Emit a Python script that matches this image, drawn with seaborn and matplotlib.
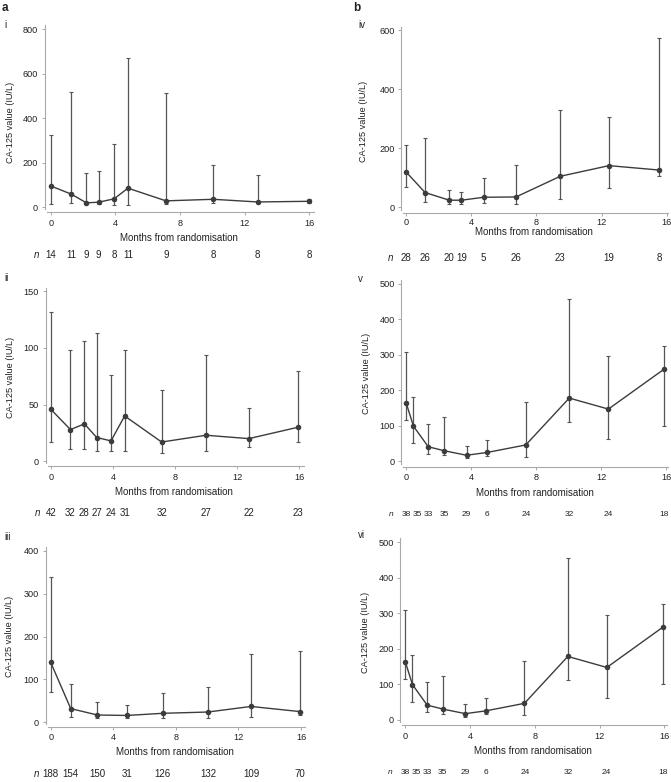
import matplotlib
matplotlib.use("Agg")
import matplotlib.pyplot as plt
import matplotlib.transforms as mtransforms
import pandas as pd
import seaborn as sns

# CA-125 over time, median with range bars, six panels

# (i)
months_i = [0, 1.28, 2.21, 2.97, 3.92, 4.78, 7.13, 10.06, 12.80, 16.0]
median_i = [96, 59, 20, 23, 38, 86, 29, 36, 24, 27]
lower_i = [15, 20, 14, 15, 11, 12, 16, 18, 20, 21]
upper_i = [326, 520, 156, 164, 284, 672, 514, 188, 144, 38]
n_i = [14, 11, 9, 9, 8, 11, 9, 8, 8, 8]

# (ii)
months_ii = [0, 1.27, 2.17, 2.96, 3.88, 4.76, 7.14, 10.0, 12.75, 15.9]
median_ii = [46, 28, 33, 21, 18, 40, 17, 23, 20, 30]
lower_ii = [17, 11, 11, 9, 9, 9, 7, 9, 13, 17]
upper_ii = [132, 98, 106, 113, 76, 98, 63, 94, 47, 80]
n_ii = [42, 32, 28, 27, 24, 31, 32, 27, 22, 23]

# (iii)
months_iii = [0, 1.28, 2.98, 4.89, 7.16, 10.05, 12.80, 15.94]
median_iii = [140, 32, 17, 16, 21, 24, 37, 25]
lower_iii = [70, 13, 10, 9, 9, 9, 13, 16]
upper_iii = [339, 89, 47, 40, 68, 82, 160, 167]
n_iii = [188, 154, 150, 31, 126, 132, 109, 70]

# (iv)
months_iv = [0, 1.17, 2.66, 3.40, 4.77, 6.75, 9.47, 12.46, 15.55]
median_iv = [120, 50, 24, 24, 34, 35, 105, 141, 126]
lower_iv = [68, 19, 12, 12, 16, 12, 28, 66, 106]
upper_iv = [211, 233, 57, 52, 98, 142, 330, 307, 573]
n_iv = [28, 26, 20, 19, 5, 26, 23, 19, 8]

# (v) and (vi) show the same values
months_v = [0, 0.44, 1.35, 2.31, 3.71, 4.99, 7.36, 10.04, 12.45, 15.9]
median_v = [163, 99, 41, 30, 17, 25, 46, 178, 147, 260]
lower_v = [115, 51, 21, 17, 8, 16, 12, 111, 62, 100]
upper_v = [308, 182, 105, 124, 43, 60, 166, 456, 296, 325]
n_v = [38, 35, 33, 35, 29, 6, 24, 32, 24, 18]
n_pos_v = [0, 0.68, 1.36, 2.32, 3.72, 4.99, 7.4, 10.05, 12.44, 15.9]

W, H = 671, 782
LINE = "#3c3c3c"
BAR = "#555555"
SPINE = "#a9a9a9"

sns.set_theme(style="ticks")
plt.rcParams["font.family"] = ["Liberation Sans", "DejaVu Sans"]
plt.rcParams["text.color"] = "#222222"

fig = plt.figure(figsize=(W / 100, H / 100), dpi=100)


def ftext(x, y, s, **kw):
    fig.text(x / W, 1 - y / H, s, **kw)


def draw_panel(frame, xcal, ycal, months, median, lower, upper, n, yticks,
               tag, tag_xy, ylab_xy, xlab_xy, n_y, n_x, n_size, n_pos=None,
               xpad=2.5):
    left, top, right, bottom = frame
    x0, x16 = xcal
    y0, yt, ytop = ycal
    to_m = lambda px: (px - x0) / (x16 - x0) * 16
    to_v = lambda py: (y0 - py) / (y0 - yt) * ytop

    ax = fig.add_axes([left / W, 1 - bottom / H, (right - left) / W, (bottom - top) / H])
    ax.set_facecolor("none")

    df = pd.DataFrame({"month": months, "median": median,
                       "lo": lower, "hi": upper})
    ax.errorbar(df["month"], df["median"],
                yerr=[df["median"] - df["lo"], df["hi"] - df["median"]],
                fmt="none", ecolor=BAR, elinewidth=0.9, capsize=1.6,
                capthick=0.8, zorder=2)
    sns.lineplot(data=df, x="month", y="median", ax=ax, color=LINE,
                 lw=1.0, marker="o", markersize=4.0, markeredgewidth=0,
                 zorder=3)

    ax.set_xlim(to_m(left), to_m(right))
    ax.set_ylim(to_v(bottom), to_v(top))
    ax.set_xticks([0, 4, 8, 12, 16])
    ax.set_yticks(yticks)
    ax.set_xlabel("")
    ax.set_ylabel("")
    sns.despine(ax=ax)
    for s in ["left", "bottom"]:
        ax.spines[s].set_color(SPINE)
        ax.spines[s].set_linewidth(0.8)
    ax.spines["left"].set_bounds(to_v(bottom - 3), to_v(top))
    ax.spines["bottom"].set_bounds(to_m(left + 2), to_m(right))
    ax.tick_params(length=2.3, width=0.7, color=SPINE, pad=2.5,
                   labelsize=6.6, labelcolor="#222222")
    ax.tick_params(axis="x", pad=xpad)

    ftext(*tag_xy, tag, fontsize=7, ha="left", va="center")
    ftext(*ylab_xy, "CA-125 value (IU/L)", fontsize=6.6, rotation=90,
          ha="center", va="center")
    ftext(*xlab_xy, "Months from randomisation", fontsize=7,
          ha="center", va="center")

    trans = mtransforms.blended_transform_factory(ax.transData, fig.transFigure)
    ftext(n_x, n_y, "n", fontsize=n_size, style="italic", ha="center", va="center")
    for m, c in zip(n_pos if n_pos is not None else months, n):
        ax.text(m, 1 - n_y / H, str(c), transform=trans, fontsize=n_size,
                ha="center", va="center")
    return ax


draw_panel((44.5, 25, 314, 212), (50.7, 309.3), (207.3, 29.3, 800),
           months_i, median_i, lower_i, upper_i, n_i, [0, 200, 400, 600, 800],
           "i", (4, 25), (11, 122), (179, 238.3), 255, 36.7, 7)
draw_panel((45.7, 287.7, 303.5, 466), (50.7, 299.3), (461.3, 291.3, 150),
           months_ii, median_ii, lower_ii, upper_ii, n_ii, [0, 50, 100, 150],
           "ii", (4, 277.7), (11, 377), (173.7, 491.7), 513.3, 38, 7)
draw_panel((45.7, 547, 305, 726.7), (50.7, 301), (722.3, 551, 400),
           months_iii, median_iii, lower_iii, upper_iii, n_iii, [0, 100, 200, 300, 400],
           "iii", (4, 536.7), (10, 636), (174.7, 752.3), 774, 36.7, 7)
draw_panel((401.3, 26.7, 668, 212.7), (406, 666.7), (207.3, 30, 600),
           months_iv, median_iv, lower_iv, upper_iv, n_iv, [0, 200, 400, 600],
           "iv", (358, 25), (363.3, 121.7), (533.7, 232), 258, 390.7, 7,
           xpad=1.6)
draw_panel((401.3, 280, 668.5, 466.7), (406.3, 666), (461.3, 283.7, 500),
           months_v, median_v, lower_v, upper_v, n_v, [0, 100, 200, 300, 400, 500],
           "v", (358, 279.3), (366.7, 373), (534.5, 493.3), 514.3, 391.3, 6, n_pos_v)
draw_panel((400.3, 537.7, 667, 725), (405.3, 664.3), (719.7, 542, 500),
           months_v, median_v, lower_v, upper_v, n_v, [0, 100, 200, 300, 400, 500],
           "vi", (358, 535), (365, 632), (533, 750.7), 772.3, 390, 6, n_pos_v)

ftext(2, 8, "a", fontsize=8.5, fontweight="bold", ha="left", va="center")
ftext(353, 8, "b", fontsize=8.5, fontweight="bold", ha="left", va="center")

fig.savefig("out.png", dpi=100)
